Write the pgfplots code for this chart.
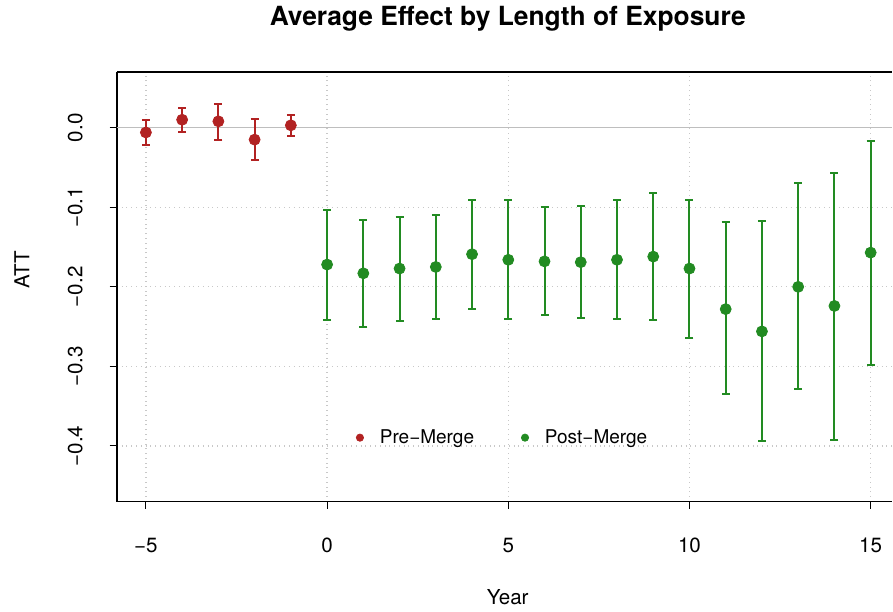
\documentclass[border=0pt]{standalone}
\usepackage{fontspec}
\setmainfont{TeX Gyre Heros}
\usepackage{pgfplots}
\usepackage{pgfplotstable}
\pgfplotsset{compat=1.18}
\definecolor{preRed}{RGB}{178,34,34}
\definecolor{postGreen}{RGB}{34,139,34}
\definecolor{gridGray}{RGB}{200,200,200}
\definecolor{zeroGray}{RGB}{190,190,190}

\pgfplotstableread{
x y lo hi
-5 -0.006 -0.022 0.010
-4 0.010 -0.006 0.025
-3 0.008 -0.015 0.030
-2 -0.015 -0.041 0.011
-1 0.003 -0.011 0.016
}\pre

\pgfplotstableread{
x y lo hi
0 -0.172 -0.242 -0.103
1 -0.183 -0.250 -0.116
2 -0.177 -0.243 -0.112
3 -0.175 -0.241 -0.110
4 -0.159 -0.228 -0.091
5 -0.166 -0.241 -0.091
6 -0.168 -0.235 -0.100
7 -0.169 -0.239 -0.098
8 -0.166 -0.240 -0.091
9 -0.162 -0.242 -0.082
10 -0.177 -0.264 -0.091
11 -0.228 -0.335 -0.119
12 -0.256 -0.394 -0.117
13 -0.200 -0.329 -0.069
14 -0.224 -0.392 -0.057
15 -0.157 -0.298 -0.017
}\post

\begin{document}
\begin{tikzpicture}
\path (-58.5bp,-54.5bp) rectangle (388bp,250.5bp);
\begin{axis}[
  at={(0,0)}, anchor=south west,
  scale only axis, width=388bp, height=215bp,
  xmin=-5.8, xmax=15.6, ymin=-0.47, ymax=0.07,
  axis lines=left,
  axis line style={-, black, line width=0.6bp},
  xtick={-5,0,5,10,15}, xticklabels={−5,0,5,10,15},
  ytick={-0.4,-0.3,-0.2,-0.1,0}, yticklabels={−0.4,−0.3,−0.2,−0.1,0.0},
  tick align=outside, major tick length=3.6bp,
  tick style={black, line width=0.5bp},
  grid=major, grid style={gridGray, dotted, line width=0.6bp},
  ticklabel style={font=\fontsize{10.3bp}{12bp}\selectfont},
  xticklabel style={anchor=north, yshift=-11bp},
  yticklabel style={rotate=90, anchor=south, yshift=10bp},
  xlabel={Year},
  xlabel style={at={(axis description cs:0.504,-0.223)}, anchor=center, font=\fontsize{10.3bp}{12bp}\selectfont},
  ylabel={ATT},
  ylabel style={at={(axis description cs:-0.1224,0.54)}, anchor=center, font=\fontsize{10.3bp}{12bp}\selectfont},
  every axis title shift=0pt,
  title={Average Effect by Length of Exposure},
  title style={at={(axis description cs:0.504,1.123)}, anchor=center, font=\bfseries\fontsize{13.2bp}{15bp}\selectfont},
  legend columns=2,
  legend style={at={(0.30,0.149)}, anchor=west, draw=none, fill=none,
    font=\fontsize{9.5bp}{11bp}\selectfont,
    /tikz/every even column/.append style={column sep=21.5bp}},
]
\addplot[zeroGray, line width=0.6bp, forget plot] coordinates {(-5.8,0) (15.6,0)};

\addplot[only marks, mark=*, mark size=2.75bp, color=preRed, mark options={fill=preRed, draw=preRed},
  legend image code/.code={\path[draw=none] (0bp,0bp) -- (8bp,0bp); \fill[preRed] (0bp,0bp) circle (1.8bp);},
  error bars/.cd, y dir=both, y explicit,
  error bar style={line width=1bp, preRed},
  error mark options={rotate=90, mark size=2bp, line width=1bp, preRed}]
  table[x=x, y=y, y error plus expr=\thisrow{hi}-\thisrow{y}, y error minus expr=\thisrow{y}-\thisrow{lo}] {\pre};
\addlegendentry{Pre−Merge}

\addplot[only marks, mark=*, mark size=2.75bp, color=postGreen, mark options={fill=postGreen, draw=postGreen},
  legend image code/.code={\path[draw=none] (0bp,0bp) -- (8bp,0bp); \fill[postGreen] (0bp,0bp) circle (1.8bp);},
  error bars/.cd, y dir=both, y explicit,
  error bar style={line width=1bp, postGreen},
  error mark options={rotate=90, mark size=2bp, line width=1bp, postGreen}]
  table[x=x, y=y, y error plus expr=\thisrow{hi}-\thisrow{y}, y error minus expr=\thisrow{y}-\thisrow{lo}] {\post};
\addlegendentry{Post−Merge}

\draw[black, line width=0.6bp] (rel axis cs:0,1) -- (rel axis cs:1,1);
\end{axis}
\end{tikzpicture}
\end{document}
